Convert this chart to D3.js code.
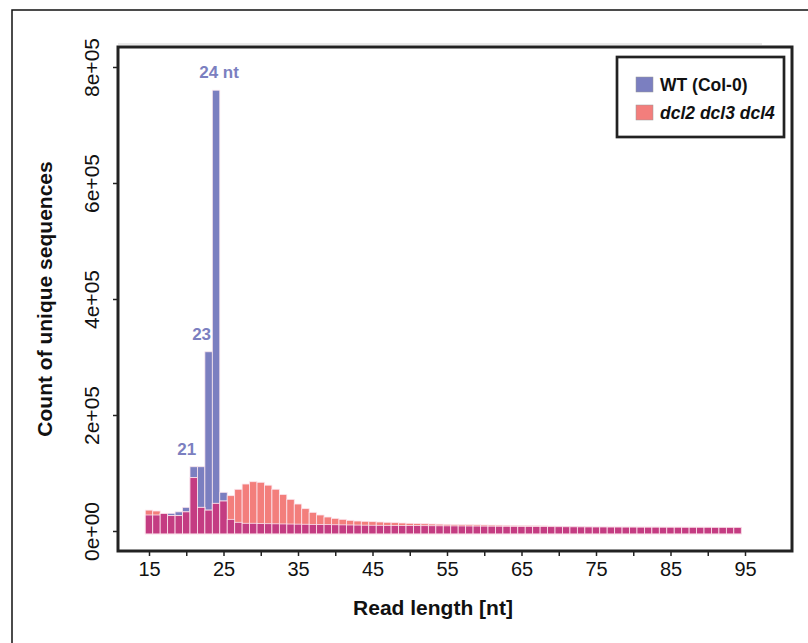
<!DOCTYPE html>
<html>
<head>
<meta charset="utf-8">
<script src="https://cdn.jsdelivr.net/npm/d3@7"></script>
<style>
  body { margin: 0; background: #fff; }
  svg { display: block; font-family: "Liberation Sans", Arial, sans-serif; }
</style>
</head>
<body>
<div id="chart"></div>
<script>
// 1: DATA
const readLengths = d3.range(15, 95); // 15 .. 94 nt
const wtCounts = [
  27600, 27600, 30000, 30500, 33000, 40800, 110800, 110800, 309000, 760000,
  66700, 20100, 15000, 13300, 13300, 12800, 12600, 12400, 12200, 12000,
  11800, 11600, 11400, 11200, 11000, 10800, 10600, 10400, 10200, 10000,
  9900, 9800, 9700, 9600, 9500, 9400, 9300, 9200, 9100, 9000,
  8900, 8800, 8700, 8600, 8500, 8400, 8300, 8200, 8100, 8000,
  7900, 7800, 7700, 7600, 7500, 7400, 7300, 7200, 7100, 7000,
  6900, 6900, 6800, 6800, 6700, 6700, 6600, 6600, 6600, 6500,
  6500, 6500, 6400, 6400, 6400, 6400, 6300, 6300, 6300, 6300
];
const dclCounts = [
  36000, 34500, 30500, 26500, 26500, 33000, 92000, 40800, 36000, 47700,
  51700, 60900, 71900, 81000, 85000, 84000, 79000, 72000, 63000, 54600,
  46500, 38500, 32200, 27600, 24100, 21800, 20100, 18400, 17200, 16700,
  16100, 15500, 15000, 14400, 13800, 13300, 12900, 12500, 12100, 11800,
  11500, 11200, 11000, 10800, 10600, 10400, 10200, 10000, 9800, 9600,
  9400, 9200, 9000, 8800, 8500, 8200, 7900, 7600, 7300, 7000,
  6900, 6900, 6800, 6800, 6700, 6700, 6600, 6600, 6600, 6500,
  6500, 6500, 6400, 6400, 6400, 6400, 6300, 6300, 6300, 6300
];
const xTicks = d3.range(15, 96, 5);
const xTickLabels = ["15", "", "25", "", "35", "", "45", "", "55", "", "65", "", "75", "", "85", "", "95"];
const yTicks = [0, 200000, 400000, 600000, 800000];
const yTickLabels = ["0e+00", "2e+05", "4e+05", "6e+05", "8e+05"];
const peakLabels = [
  { len: 21, text: "21" },
  { len: 23, text: "23" },
  { len: 24, text: "24 nt" }
];
const seriesNames = ["WT (Col-0)", "dcl2 dcl3 dcl4"];

// 2: LAYOUT
const W = 808, H = 643;
const box = { left: 118, top: 47, right: 792, bottom: 551 };
const barBase = -5000;

const colWT = "#7b7fc0";
const colDcl = "#f37e7c";
const colBoth = "#c43c82";

const svg = d3.select("#chart").append("svg")
    .attr("width", W)
    .attr("height", H);

svg.append("rect").attr("width", W).attr("height", H).attr("fill", "#fff");

// outer frame
svg.append("rect")
    .attr("x", 12).attr("y", 10)
    .attr("width", W).attr("height", H)
    .attr("fill", "none")
    .attr("stroke", "#111")
    .attr("stroke-width", 1.5);

// 3: SCALES
const x = d3.scaleLinear().domain([15, 95]).range([149, 745]);
const y = d3.scaleLinear().domain([0, 800000]).range([531, 67]);

const rows = readLengths.map((len, i) => ({
  len,
  wt: wtCounts[i],
  dcl: dclCounts[i],
  both: Math.min(wtCounts[i], dclCounts[i])
}));

// 4: BARS
function drawBars(key, color) {
  svg.append("g").selectAll("rect")
    .data(rows)
    .join("rect")
    .attr("x", d => x(d.len - 0.5))
    .attr("width", d => x(d.len + 0.5) - x(d.len - 0.5))
    .attr("y", d => y(d[key]))
    .attr("height", d => y(barBase) - y(d[key]))
    .attr("fill", color)
    .attr("stroke", "#fbe6ee")
    .attr("stroke-width", 0.8);
}
drawBars("wt", colWT);
drawBars("dcl", colDcl);
drawBars("both", colBoth);

// peak labels
svg.append("g").selectAll("text")
    .data(peakLabels)
    .join("text")
    .attr("x", d => d.len === 24 ? x(d.len) + 3 : x(d.len) - 7)
    .attr("y", d => y(wtCounts[d.len - 15]) - 12)
    .attr("text-anchor", "middle")
    .attr("fill", colWT)
    .style("font-size", "17px")
    .style("font-weight", "bold")
    .text(d => d.text);

// 5: AXES
const xAxis = svg.append("g")
    .attr("transform", `translate(0,${box.bottom})`)
    .call(d3.axisBottom(x).tickValues(xTicks).tickSize(5)
      .tickFormat((d, i) => xTickLabels[i]));
xAxis.select(".domain").remove();
xAxis.selectAll("line").attr("stroke", "#222").attr("stroke-width", 1.5);
xAxis.selectAll("text")
    .attr("y", 25).attr("dy", 0)
    .attr("fill", "#111")
    .style("font-size", "20px")
    .style("font-family", "'Liberation Sans', Arial, sans-serif");

const yAxis = svg.append("g")
    .attr("transform", `translate(${box.left},0)`)
    .call(d3.axisLeft(y).tickValues(yTicks).tickSize(5)
      .tickFormat((d, i) => yTickLabels[i]));
yAxis.select(".domain").remove();
yAxis.selectAll("line").attr("stroke", "#222").attr("stroke-width", 1.5);
yAxis.selectAll("text")
    .attr("x", 0).attr("dy", 0)
    .attr("transform", "translate(-19,0) rotate(-90)")
    .attr("text-anchor", "middle")
    .attr("fill", "#111")
    .style("font-size", "21px")
    .style("font-family", "'Liberation Sans', Arial, sans-serif");

// faint line above the panel
svg.append("line")
    .attr("x1", box.left).attr("x2", 762)
    .attr("y1", 44).attr("y2", 44)
    .attr("stroke", "#d4d4d4").attr("stroke-width", 1);

// panel box
svg.append("rect")
    .attr("x", box.left).attr("y", box.top)
    .attr("width", box.right - box.left)
    .attr("height", box.bottom - box.top)
    .attr("fill", "none")
    .attr("stroke", "#222")
    .attr("stroke-width", 3);

// 6: AXIS TITLES
svg.append("text")
    .attr("x", 433).attr("y", 615)
    .attr("text-anchor", "middle")
    .style("font-size", "21px")
    .style("font-weight", "bold")
    .attr("fill", "#111")
    .text("Read length [nt]");

svg.append("text")
    .attr("transform", `translate(52,${(box.top + box.bottom) / 2}) rotate(-90)`)
    .attr("text-anchor", "middle")
    .style("font-size", "21px")
    .style("font-weight", "bold")
    .attr("fill", "#111")
    .text("Count of unique sequences");

// 7: LEGEND
const legend = svg.append("g").attr("transform", "translate(617,57)");
legend.append("rect")
    .attr("width", 167).attr("height", 80)
    .attr("fill", "#fff")
    .attr("stroke", "#222")
    .attr("stroke-width", 2.7);

const legItems = legend.selectAll("g.item")
    .data(seriesNames)
    .join("g")
    .attr("class", "item")
    .attr("transform", (d, i) => `translate(19,${20 + i * 28})`);
legItems.append("rect")
    .attr("width", 17).attr("height", 15)
    .attr("fill", (d, i) => i === 0 ? colWT : colDcl)
    .attr("stroke", "#999").attr("stroke-width", 0.5);
legItems.append("text")
    .attr("x", 24).attr("y", 14)
    .style("font-size", "17.5px")
    .style("font-weight", "bold")
    .style("font-style", (d, i) => i === 1 ? "italic" : "normal")
    .attr("fill", "#111")
    .text(d => d);
</script>
</body>
</html>
